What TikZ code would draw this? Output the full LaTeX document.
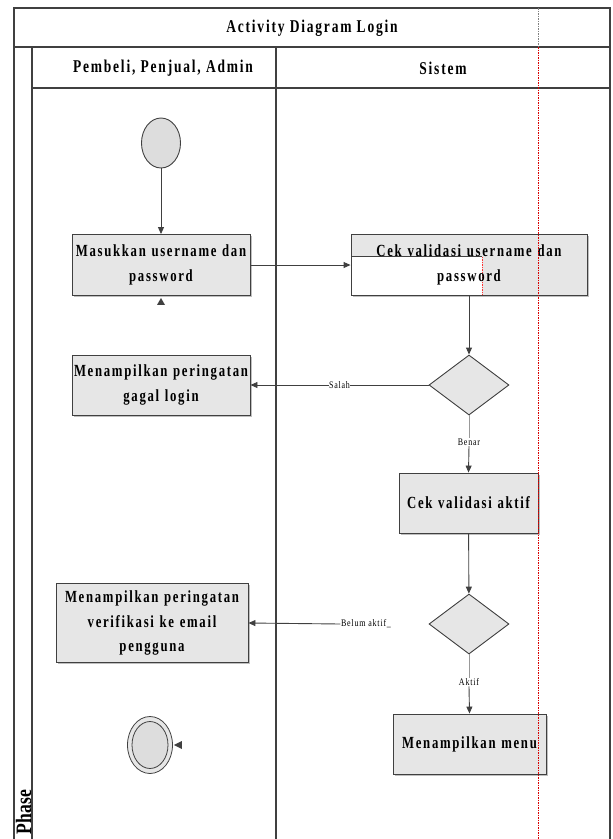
\documentclass[tikz,border=0pt]{standalone}
\usepackage{fontspec}
\setmainfont{Liberation Serif}
\newfontfamily\condfont[FakeStretch=0.8]{Liberation Serif}
\newfontfamily\smallfont[FakeStretch=0.8,LetterSpace=8]{Liberation Serif}
\newfontfamily\spacedfont[FakeStretch=0.75,LetterSpace=10]{Liberation Serif}
\usetikzlibrary{shapes.geometric,arrows.meta,shadows}

\definecolor{linec}{HTML}{404040}
\definecolor{boxfill}{HTML}{E6E6E6}
\definecolor{nodefill}{HTML}{DDDDDD}

\begin{document}
\begin{tikzpicture}[x=1pt,y=-1pt,
  actbox/.style={rectangle, draw=linec, fill=boxfill, line width=0.9pt, inner sep=0pt,
    align=center, font=\spacedfont\bfseries\fontsize{17}{24.5}\selectfont,
    drop shadow={shadow xshift=1.5pt, shadow yshift=-1.5pt, fill=black, opacity=0.25}},
  decision/.style={diamond, draw=linec, fill=boxfill, line width=0.9pt, inner sep=0pt,
    minimum width=80pt, minimum height=60pt},
  flow/.style={draw=linec, line width=0.9pt, -{Triangle[length=7pt,width=6pt]}},
  softline/.style={draw=gray!80, line width=0.9pt},
  elabel/.style={fill=white, inner sep=0.5pt, font=\smallfont\fontsize{10}{11}\selectfont},
  frame/.style={draw=linec, line width=1.5pt},
  head/.style={font=\spacedfont\bfseries\fontsize{18}{19}\selectfont}]

\useasboundingbox (0,0) rectangle (613,839);

% vertical "Phase" label of the left column
\node[rotate=90, anchor=base, inner sep=0pt,
      font=\condfont\bfseries\fontsize{22}{22}\selectfont] (phase) at (31,812) {Phase};

% swimlane frame
\draw[frame] (14,845) -- (14,8) -- (610,8) -- (610,845);
\draw[frame] (14,47) -- (610,47);
\draw[frame] (32,88) -- (610,88);
\draw[frame] (32,47) -- (32,845);
\draw[frame] (276,47) -- (276,845);

% headings
\node[head] (title) at (312,28) {Activity Diagram Login};
\node[head] (lane1) at (163,68) {Pembeli, Penjual, Admin};
\node[head] (lane2) at (443,68) {Sistem};

% start and end nodes
\node[ellipse, draw=linec, fill=nodefill, line width=0.9pt, inner sep=0pt,
      minimum width=39pt, minimum height=50pt] (start) at (161,143) {};
\node[ellipse, draw=linec, fill=boxfill, line width=0.8pt, inner sep=0pt,
      minimum width=45pt, minimum height=57pt] (final) at (150,745) {};
\node[ellipse, draw=linec, fill=nodefill, line width=0.8pt, inner sep=0pt,
      minimum width=36pt, minimum height=47pt] (finalin) at (150,745) {};

% activities
\node[actbox, text width=178pt, minimum height=61pt] (b1) at (161,265)
  {Masukkan username dan\\password};
\node[actbox, text width=236pt, minimum height=61pt,
      path picture={
        \fill[white] ([yshift=9pt]path picture bounding box.west)
          rectangle ([xshift=13pt]path picture bounding box.south);
        \draw[linec, line width=0.8pt] ([yshift=9pt]path picture bounding box.west)
          -- ++(131,0);
        \draw[red!80, line width=0.5pt, dash pattern=on 1.5pt off 1pt]
          ([xshift=13pt]path picture bounding box.south) -- ++(0,-39);
      }] (b2) at (469,265)
  {Cek validasi username dan\\password};
\node[actbox, text width=178pt, minimum height=60pt] (b3) at (161,385)
  {Menampilkan peringatan\\gagal login};
\node[actbox, text width=139pt, minimum height=60pt] (b4) at (468.5,503)
  {Cek validasi aktif};
\node[actbox, text width=192pt, minimum height=79pt] (b5) at (152,623)
  {Menampilkan peringatan\\verifikasi ke email\\pengguna};
\node[actbox, text width=153pt, minimum height=60pt] (b6) at (469.5,744)
  {Menampilkan menu};

% decisions
\node[decision] (d1) at (469,385) {};
\node[decision] (d2) at (469,624) {};

% flows
\draw[flow] (start) -- (b1);
\draw[flow] (b1.east) -- (b2.west |- b1.east);
\draw[flow] (b2) -- (d1);
\draw[flow] (d1.west) -- node[elabel, pos=0.5] (salah) {Salah} (b3.east);
\node[elabel] (benar) at (469,442) {Benar};
\draw[softline] (d1.south) -- (benar.north);
\draw[flow] (benar.south) -- (b4.north);
\draw[flow] (b4) -- (d2);
\node[elabel] (belum) at (366,624) {Belum aktif\_};
\draw[flow] (belum.west) -- (b5.east);
\node[elabel] (aktif) at (469,682) {Aktif};
\draw[softline] (d2.south) -- (aktif.north);
\draw[flow] (aktif.south) -- (b6.north);

% loose arrow tips
\fill[linec] ([yshift=-2pt]b1.south) -- ++(-4,7) -- ++(8,0) -- cycle;
\fill[linec] ([xshift=1pt]final.east) -- ++(8,-4) -- ++(0,8) -- cycle;

% page guides
\draw[gray, line width=0.7pt, dash pattern=on 1.5pt off 1pt] (538.5,8) -- (538.5,47);
\draw[red!85!black, line width=1.4pt, dash pattern=on 1.5pt off 1pt] (538.5,47) -- (538.5,839);
\end{tikzpicture}
\end{document}
